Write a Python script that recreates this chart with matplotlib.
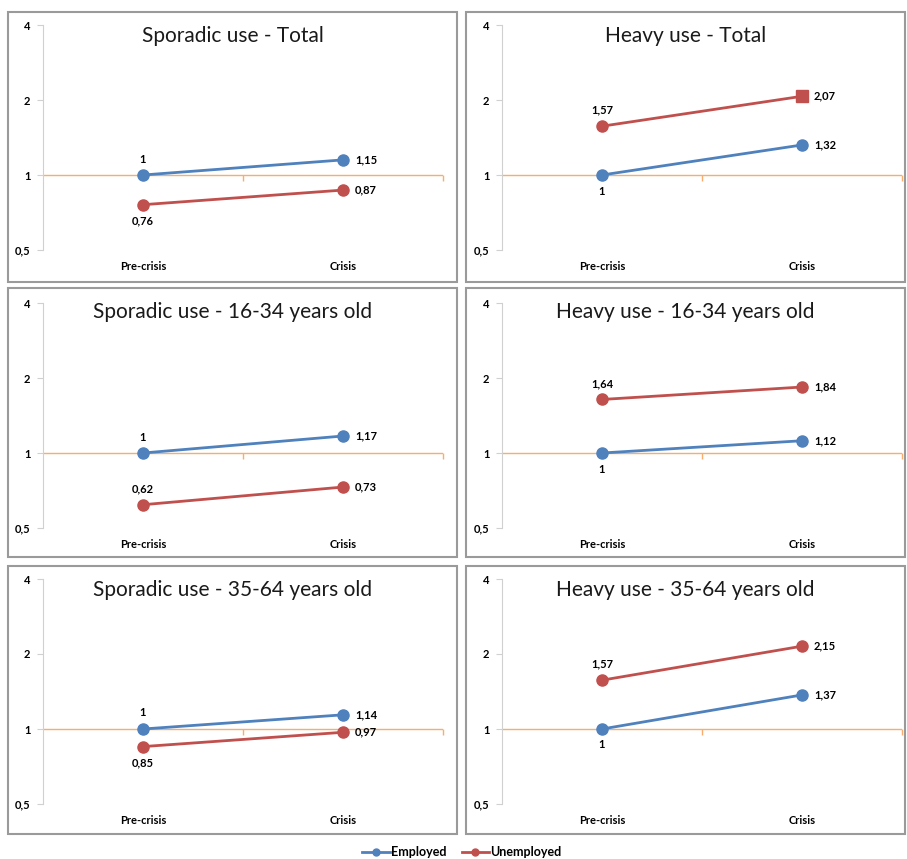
import numpy as np
import matplotlib.pyplot as plt
from matplotlib.patches import Rectangle
from matplotlib.lines import Line2D
from matplotlib.ticker import FixedLocator

plt.rcParams['font.family'] = ['Lato', 'DejaVu Sans']

categories = ['Pre-crisis', 'Crisis']
titles = ['Sporadic use - Total', 'Heavy use - Total',
          'Sporadic use - 16-34 years old', 'Heavy use - 16-34 years old',
          'Sporadic use - 35-64 years old', 'Heavy use - 35-64 years old']
employed = [[1, 1.15], [1, 1.32],
            [1, 1.17], [1, 1.12],
            [1, 1.14], [1, 1.37]]
unemployed = [[0.76, 0.87], [1.57, 2.07],
              [0.62, 0.73], [1.64, 1.84],
              [0.85, 0.97], [1.57, 2.15]]
yticks = [0.5, 1, 2, 4]
ytick_labels = ['0,5', '1', '2', '4']

# where the pre-crisis value label sits (above / below the point)
emp_side = ['up', 'down', 'up', 'down', 'up', 'down']
unemp_side = ['down', 'up', 'up', 'up', 'down', 'up']

BLUE = '#4F81BD'
RED = '#C0504D'
ORANGE = '#F8AC6E'
W, H = 907, 859

fig = plt.figure(figsize=(W / 100, H / 100), dpi=100)

# panel frames (px): left, right and top, bottom
cols = [(8, 457, 43), (466, 905, 502)]
rows = [(12, 282, 25), (288, 557, 303), (566, 834, 579)]
AX_W, AX_H = 400, 225


def fmt(v):
    s = ('%.2f' % v).rstrip('0').rstrip('.')
    return s.replace('.', ',')


for i in range(6):
    r, c = divmod(i, 2)
    bx0, bx1, axl = cols[c]
    by0, by1, axt = rows[r]
    fig.patches.append(Rectangle((bx0 / W, 1 - by1 / H), (bx1 - bx0) / W, (by1 - by0) / H,
                                 transform=fig.transFigure, fill=False,
                                 edgecolor='#9A9A9A', linewidth=1.5))
    fig.text((bx0 + bx1) / 2 / W, 1 - (by0 + 24) / H, titles[i],
             ha='center', va='center', fontsize=15, color='#1a1a1a')

    ax = fig.add_axes([axl / W, 1 - (axt + AX_H) / H, AX_W / W, AX_H / H])
    ax.set_yscale('log', base=2)
    ax.set_ylim(0.5, 4)
    ax.set_xlim(-0.5, 1.5)
    ax.patch.set_alpha(0)

    for s in ['top', 'right', 'bottom']:
        ax.spines[s].set_visible(False)
    ax.spines['left'].set_color('#D0D0D0')

    # reference line at 1 with its small category ticks
    ax.axhline(1, color=ORANGE, linewidth=1, zorder=1)
    ax.plot([0.5, 1.5], [1, 1], color=ORANGE, marker=3, markersize=4,
            markeredgewidth=1, linestyle='none', zorder=1, clip_on=False)

    ax.yaxis.set_major_locator(FixedLocator(yticks))
    ax.yaxis.set_minor_locator(FixedLocator([]))
    ax.set_yticklabels(ytick_labels)
    ax.tick_params(axis='y', colors='#D0D0D0', labelcolor='black', length=4,
                   labelsize=8, pad=5)
    for t in ax.get_yticklabels():
        t.set_fontweight('bold')
    ax.set_xticks([])

    for k, cat in enumerate(categories):
        ax.text(k, -0.075, cat, transform=ax.get_xaxis_transform(),
                ha='center', va='center', fontsize=8, fontweight='bold')

    x = np.arange(len(categories))
    ax.plot(x, employed[i], color=BLUE, linewidth=2, marker='o', markersize=8,
            zorder=4, clip_on=False)
    ax.plot(x, unemployed[i], color=RED, linewidth=2, marker='o', markersize=8,
            zorder=3, clip_on=False)
    if i == 1:
        # the last point of this series is drawn with a square marker
        ax.plot(x[1:], unemployed[i][1:], color=RED, marker='s', markersize=8,
                linestyle='none', zorder=5)

    for vals, side in [(employed[i], emp_side[i]), (unemployed[i], unemp_side[i])]:
        dy = 16 if side == 'up' else -16
        ax.annotate(fmt(vals[0]), (0, vals[0]), xytext=(0, dy),
                    textcoords='offset pixels', ha='center', va='center',
                    fontsize=8, fontweight='bold')
        ax.annotate(fmt(vals[1]), (1, vals[1]), xytext=(12, 0),
                    textcoords='offset pixels', ha='left', va='center',
                    fontsize=8, fontweight='bold')

handles = [Line2D([], [], color=BLUE, linewidth=2, marker='o', markersize=5),
           Line2D([], [], color=RED, linewidth=2, marker='o', markersize=5)]
fig.legend(handles, ['Employed', 'Unemployed'], loc='center',
           bbox_to_anchor=(462 / W, 1 - 852 / H), ncol=2, frameon=False,
           prop={'size': 9, 'weight': 'bold'}, handlelength=2.2,
           handletextpad=0.1, columnspacing=1.2)

fig.savefig('out.png', dpi=100)
